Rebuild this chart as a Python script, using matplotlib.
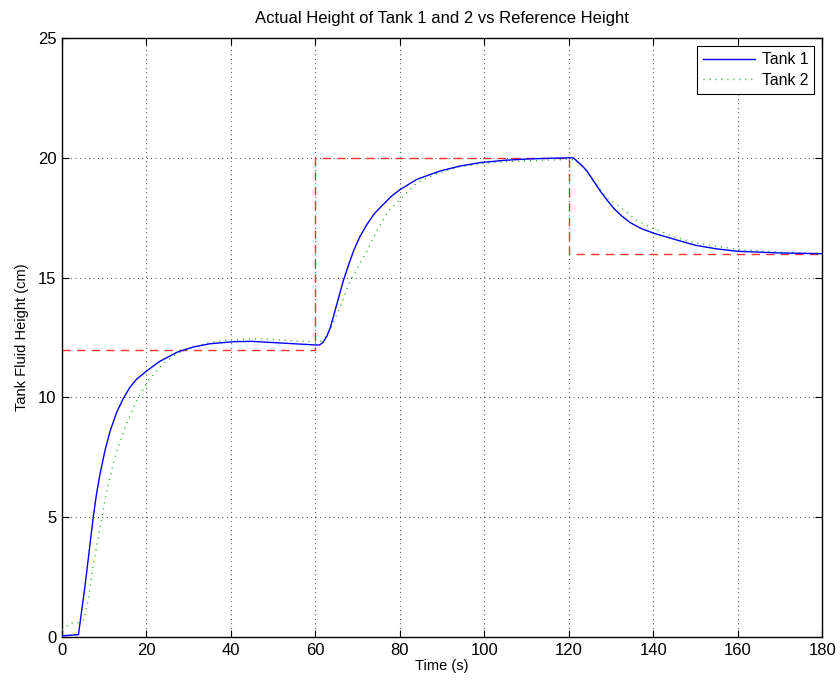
import numpy as np
import matplotlib
matplotlib.use('Agg')
import matplotlib.pyplot as plt

plt.rcParams['font.family'] = ['Liberation Sans', 'DejaVu Sans']

# reference (set point) height
ref_t = [0, 60, 60, 120, 120, 180]
ref_h = [12, 12, 20, 20, 16, 16]

# tank 1 response
t1 = [0, 3.9, 5.5, 7.4, 8.2, 9.0, 10.2, 11.4, 13, 14.5, 16, 17.6, 20, 23.1, 27.4, 31, 35, 41, 45,
      49, 55, 60, 61, 61.8, 62.7, 63.5, 64.2, 65.4, 66.6, 67.8, 69, 70.5, 72.2, 74, 76.1, 78,
      80.1, 84, 89.5, 94.3, 99, 105, 110, 115, 120, 121.1, 122, 123, 124.3, 126, 127.5, 129,
      130.6, 132.5, 134.5, 137, 140, 145, 150, 155, 160, 170, 180]
h1 = [0.05, 0.1, 2.2, 5.0, 6.0, 6.8, 7.8, 8.6, 9.4, 9.95, 10.4, 10.75, 11.1, 11.5, 11.9, 12.1,
      12.24, 12.33, 12.34, 12.3, 12.24, 12.19, 12.19, 12.3, 12.55, 12.9, 13.33, 14.1, 14.86,
      15.5, 16.1, 16.7, 17.22, 17.68, 18.06, 18.4, 18.68, 19.1, 19.45, 19.66, 19.8, 19.9, 19.95,
      19.98, 20.0, 20.0, 19.85, 19.7, 19.45, 19.0, 18.6, 18.25, 17.9, 17.58, 17.3, 17.06, 16.86,
      16.6, 16.35, 16.2, 16.1, 16.03, 16.0]

# tank 2 response
t2 = [0, 2, 4, 5.2, 6.3, 7.4, 9.0, 10.6, 12.5, 14.9, 17.6, 20.4, 23.9, 27.4, 31, 35, 40, 45, 50,
      55, 60, 61.1, 62.3, 63.5, 65.8, 68.2, 70.2, 72.2, 74.5, 77.3, 80.1, 84, 88.7, 94, 100,
      110, 118, 120, 121.5, 123.5, 126.2, 129, 132.9, 135.7, 140, 145, 150, 160, 170, 180]
h2 = [0.3, 0.58, 0.6, 0.72, 1.62, 3.0, 4.55, 6.1, 7.5, 8.74, 9.85, 10.7, 11.4, 11.85, 12.1, 12.3,
      12.4, 12.45, 12.42, 12.36, 12.32, 12.32, 12.5, 12.84, 13.74, 14.86, 15.48, 16.1, 16.94,
      17.78, 18.27, 18.96, 19.34, 19.62, 19.78, 19.88, 19.92, 19.95, 19.9, 19.59, 18.96, 18.33,
      17.85, 17.43, 17.05, 16.7, 16.45, 16.18, 16.07, 16.0]

fig = plt.figure(figsize=(8.4, 6.83), dpi=100)
ax = fig.add_axes([0.0738, 0.0673, 0.905, 0.877])

ax.plot(t1, h1, color='#0000ff', lw=1.0, label='Tank 1', zorder=4)
ax.plot(t2, h2, color='#33aa33', lw=1.0, dashes=(0.8, 3.5), label='Tank 2', zorder=3)
ax.plot(ref_t, ref_h, color='#ff3030', lw=1.0, dashes=(6, 4.5), zorder=2)

ax.set_xlim(0, 180)
ax.set_ylim(0, 25)
ax.set_xticks(np.arange(0, 181, 20))
ax.set_yticks(np.arange(0, 26, 5))
ax.grid(True, color='black', linestyle=(0, (0.6, 3.4)), lw=0.8)
ax.tick_params(direction='in', top=True, right=True, length=5, labelsize=12, pad=4)
for s in ax.spines.values():
    s.set_linewidth(1.0)

ax.set_title('Actual Height of Tank 1 and 2 vs Reference Height', fontsize=12, pad=11)
ax.set_xlabel('Time (s)', fontsize=10.5, labelpad=1)
ax.set_ylabel('Tank Fluid Height (cm)', fontsize=10.5, labelpad=6)

leg = ax.legend(loc='upper right', fontsize=11.3, fancybox=False, edgecolor='black',
                framealpha=1, borderaxespad=0.5, handlelength=3.3, handletextpad=0.4,
                labelspacing=0.35, borderpad=0.4)
leg.get_frame().set_linewidth(0.8)

plt.savefig('out.png', dpi=100)
plt.close()
